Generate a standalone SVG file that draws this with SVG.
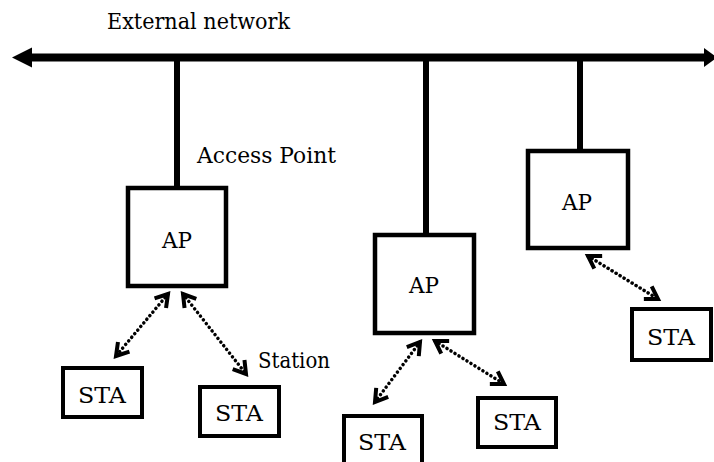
<svg xmlns="http://www.w3.org/2000/svg" width="714" height="462" viewBox="0 0 714 462">
  <defs>
    <style>
      .mid { text-anchor: middle; }
      .ap { fill: #fff; stroke: #000; stroke-width: 4.5; }
      .sta { fill: #fff; stroke: #000; stroke-width: 4; }
      .wire { stroke: #000; stroke-width: 6; fill: none; }
      .bus { stroke: #000; stroke-width: 8; fill: none; }
      .radio { stroke: #000; stroke-width: 3.5; fill: none; stroke-linecap: round; stroke-dasharray: 0.1 4.6; marker-start: url(#chev); marker-end: url(#chev); }
    </style>
    <marker id="chev" markerUnits="userSpaceOnUse" viewBox="-16 -10 18 20" refX="0" refY="0" markerWidth="18" markerHeight="20" orient="auto-start-reverse" overflow="visible">
      <path d="M-12,-7.5 L0,0 L-12,7.5" fill="none" stroke="#000" stroke-width="4" stroke-linejoin="miter"/>
    </marker>
  </defs>

  <rect width="714" height="462" fill="#fff"/>

  <g id="connectors">
    <!-- backbone bus with arrows at both ends -->
    <line class="bus" x1="30" y1="57.5" x2="708" y2="57.5"/>
    <polygon points="12,57.5 32,47.5 32,67.5" fill="#000"/>
    <polygon points="717,57.5 704,48 704,67" fill="#000"/>
    <!-- drops from bus to access points -->
    <line class="wire" x1="177" y1="57" x2="177" y2="188"/>
    <line class="wire" x1="426" y1="57" x2="426" y2="235"/>
    <line class="wire" x1="580" y1="57" x2="580" y2="151"/>
    <!-- wireless links -->
    <line class="radio" x1="168" y1="294" x2="116" y2="356"/>
    <line class="radio" x1="183" y1="294" x2="246" y2="374"/>
    <line class="radio" x1="420" y1="342" x2="375" y2="402"/>
    <line class="radio" x1="435" y1="341" x2="504" y2="384"/>
    <line class="radio" x1="588" y1="256" x2="658" y2="299"/>
  </g>

  <g font-family="DejaVu Serif, Liberation Serif, serif" font-size="23" fill="#000">
    <g id="ap1">
      <rect class="ap" x="128" y="188" width="98" height="98"/>
      <text class="mid" x="177" y="248" textLength="30" lengthAdjust="spacingAndGlyphs">AP</text>
    </g>
    <g id="ap2">
      <rect class="ap" x="375" y="235" width="99" height="98"/>
      <text class="mid" x="424" y="293" textLength="30" lengthAdjust="spacingAndGlyphs">AP</text>
    </g>
    <g id="ap3">
      <rect class="ap" x="528" y="151" width="100" height="97"/>
      <text class="mid" x="577" y="210" textLength="30" lengthAdjust="spacingAndGlyphs">AP</text>
    </g>

    <g id="sta1">
      <rect class="sta" x="63" y="368" width="79" height="49"/>
      <text class="mid" x="102" y="403" textLength="48" lengthAdjust="spacingAndGlyphs">STA</text>
    </g>
    <g id="sta2">
      <rect class="sta" x="200" y="387" width="79" height="49"/>
      <text class="mid" x="239" y="421" textLength="48" lengthAdjust="spacingAndGlyphs">STA</text>
    </g>
    <g id="sta3">
      <rect class="sta" x="344" y="416" width="78" height="52"/>
      <text class="mid" x="382" y="450" textLength="48" lengthAdjust="spacingAndGlyphs">STA</text>
    </g>
    <g id="sta4">
      <rect class="sta" x="478" y="398" width="78" height="49"/>
      <text class="mid" x="517" y="430" textLength="48" lengthAdjust="spacingAndGlyphs">STA</text>
    </g>
    <g id="sta5">
      <rect class="sta" x="632" y="309" width="79" height="51"/>
      <text class="mid" x="671" y="345" textLength="48" lengthAdjust="spacingAndGlyphs">STA</text>
    </g>

    <g id="labels">
      <text x="107" y="29" textLength="183" lengthAdjust="spacingAndGlyphs">External network</text>
      <text x="197" y="163" textLength="139" lengthAdjust="spacingAndGlyphs">Access Point</text>
      <text x="258" y="368" textLength="72" lengthAdjust="spacingAndGlyphs">Station</text>
    </g>
  </g>
</svg>
